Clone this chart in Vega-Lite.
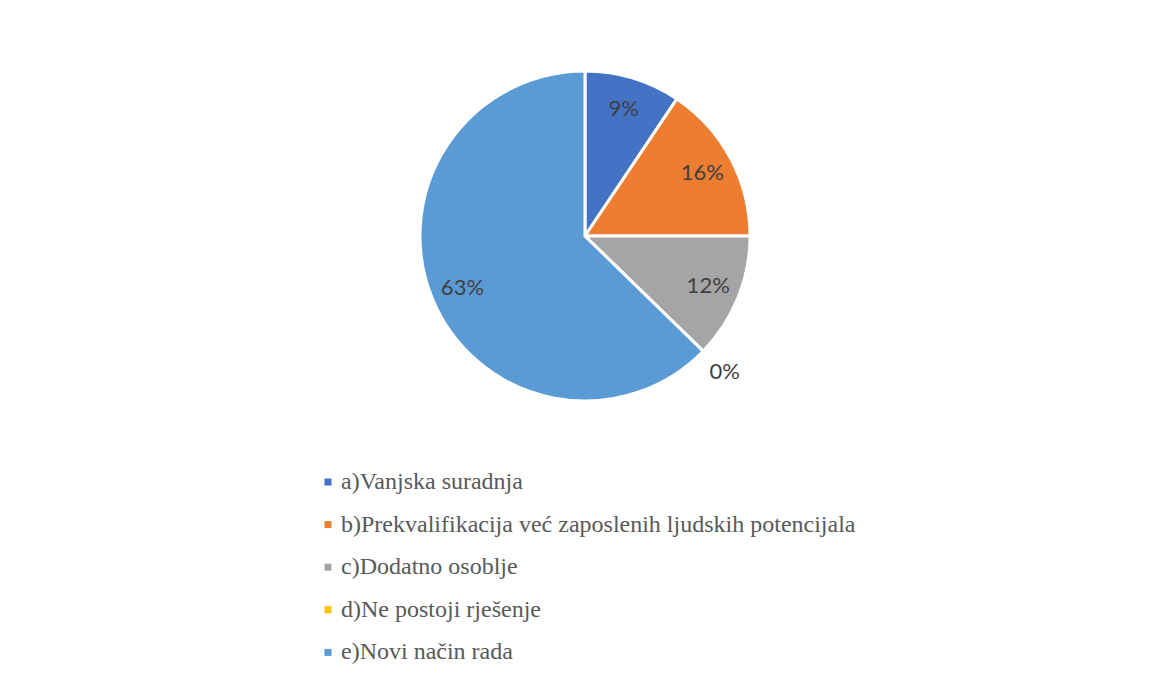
{
  "$schema": "https://vega.github.io/schema/vega-lite/v6.json",
  "autosize": "none",
  "width": 1132,
  "height": 450,
  "padding": {"left": 19, "top": 11, "right": 0, "bottom": 216},
  "background": "white",
  "config": {"view": {"stroke": null}},
  "data": {
    "values": [
      {"cat": "a)Vanjska suradnja", "value": 9.4, "label": "9%"},
      {"cat": "b)Prekvalifikacija već zaposlenih ljudskih potencijala", "value": 15.6, "label": "16%"},
      {"cat": "c)Dodatno osoblje", "value": 12.3, "label": "12%"},
      {"cat": "d)Ne postoji rješenje", "value": 0, "label": "0%"},
      {"cat": "e)Novi način rada", "value": 62.7, "label": "63%"}
    ]
  },
  "encoding": {
    "theta": {"field": "value", "type": "quantitative", "stack": true},
    "order": {"field": "cat", "type": "nominal", "sort": "ascending"}
  },
  "layer": [
    {
      "mark": {"type": "arc", "outerRadius": 165, "stroke": "white", "strokeWidth": 3},
      "encoding": {
        "color": {
          "field": "cat",
          "type": "nominal",
          "scale": {
            "domain": ["a)Vanjska suradnja", "b)Prekvalifikacija već zaposlenih ljudskih potencijala", "c)Dodatno osoblje", "d)Ne postoji rješenje", "e)Novi način rada"],
            "range": ["#4472C4", "#ED7D31", "#A5A5A5", "#FFC000", "#5B9BD5"]
          },
          "legend": {
            "title": null,
            "orient": "none",
            "legendX": 297,
            "legendY": 459,
            "direction": "vertical",
            "padding": 0,
            "symbolType": "square",
            "symbolSize": 49,
            "symbolStrokeWidth": 0,
            "labelFont": "Liberation Serif",
            "labelFontSize": 24,
            "labelColor": "#595959",
            "labelOffset": 1,
            "labelLimit": 800,
            "rowPadding": 18.6
          }
        }
      }
    },
    {
      "mark": {"type": "text", "radius": 133, "font": "Lato", "fontSize": 22, "fill": "#404040"},
      "encoding": {
        "text": {"condition": {"test": "datum.value > 0", "field": "label"}, "value": ""}
      }
    },
    {
      "mark": {"type": "text", "radius": 195, "font": "Lato", "fontSize": 22, "fill": "#404040"},
      "encoding": {
        "text": {"condition": {"test": "datum.value == 0", "field": "label"}, "value": ""}
      }
    }
  ]
}
